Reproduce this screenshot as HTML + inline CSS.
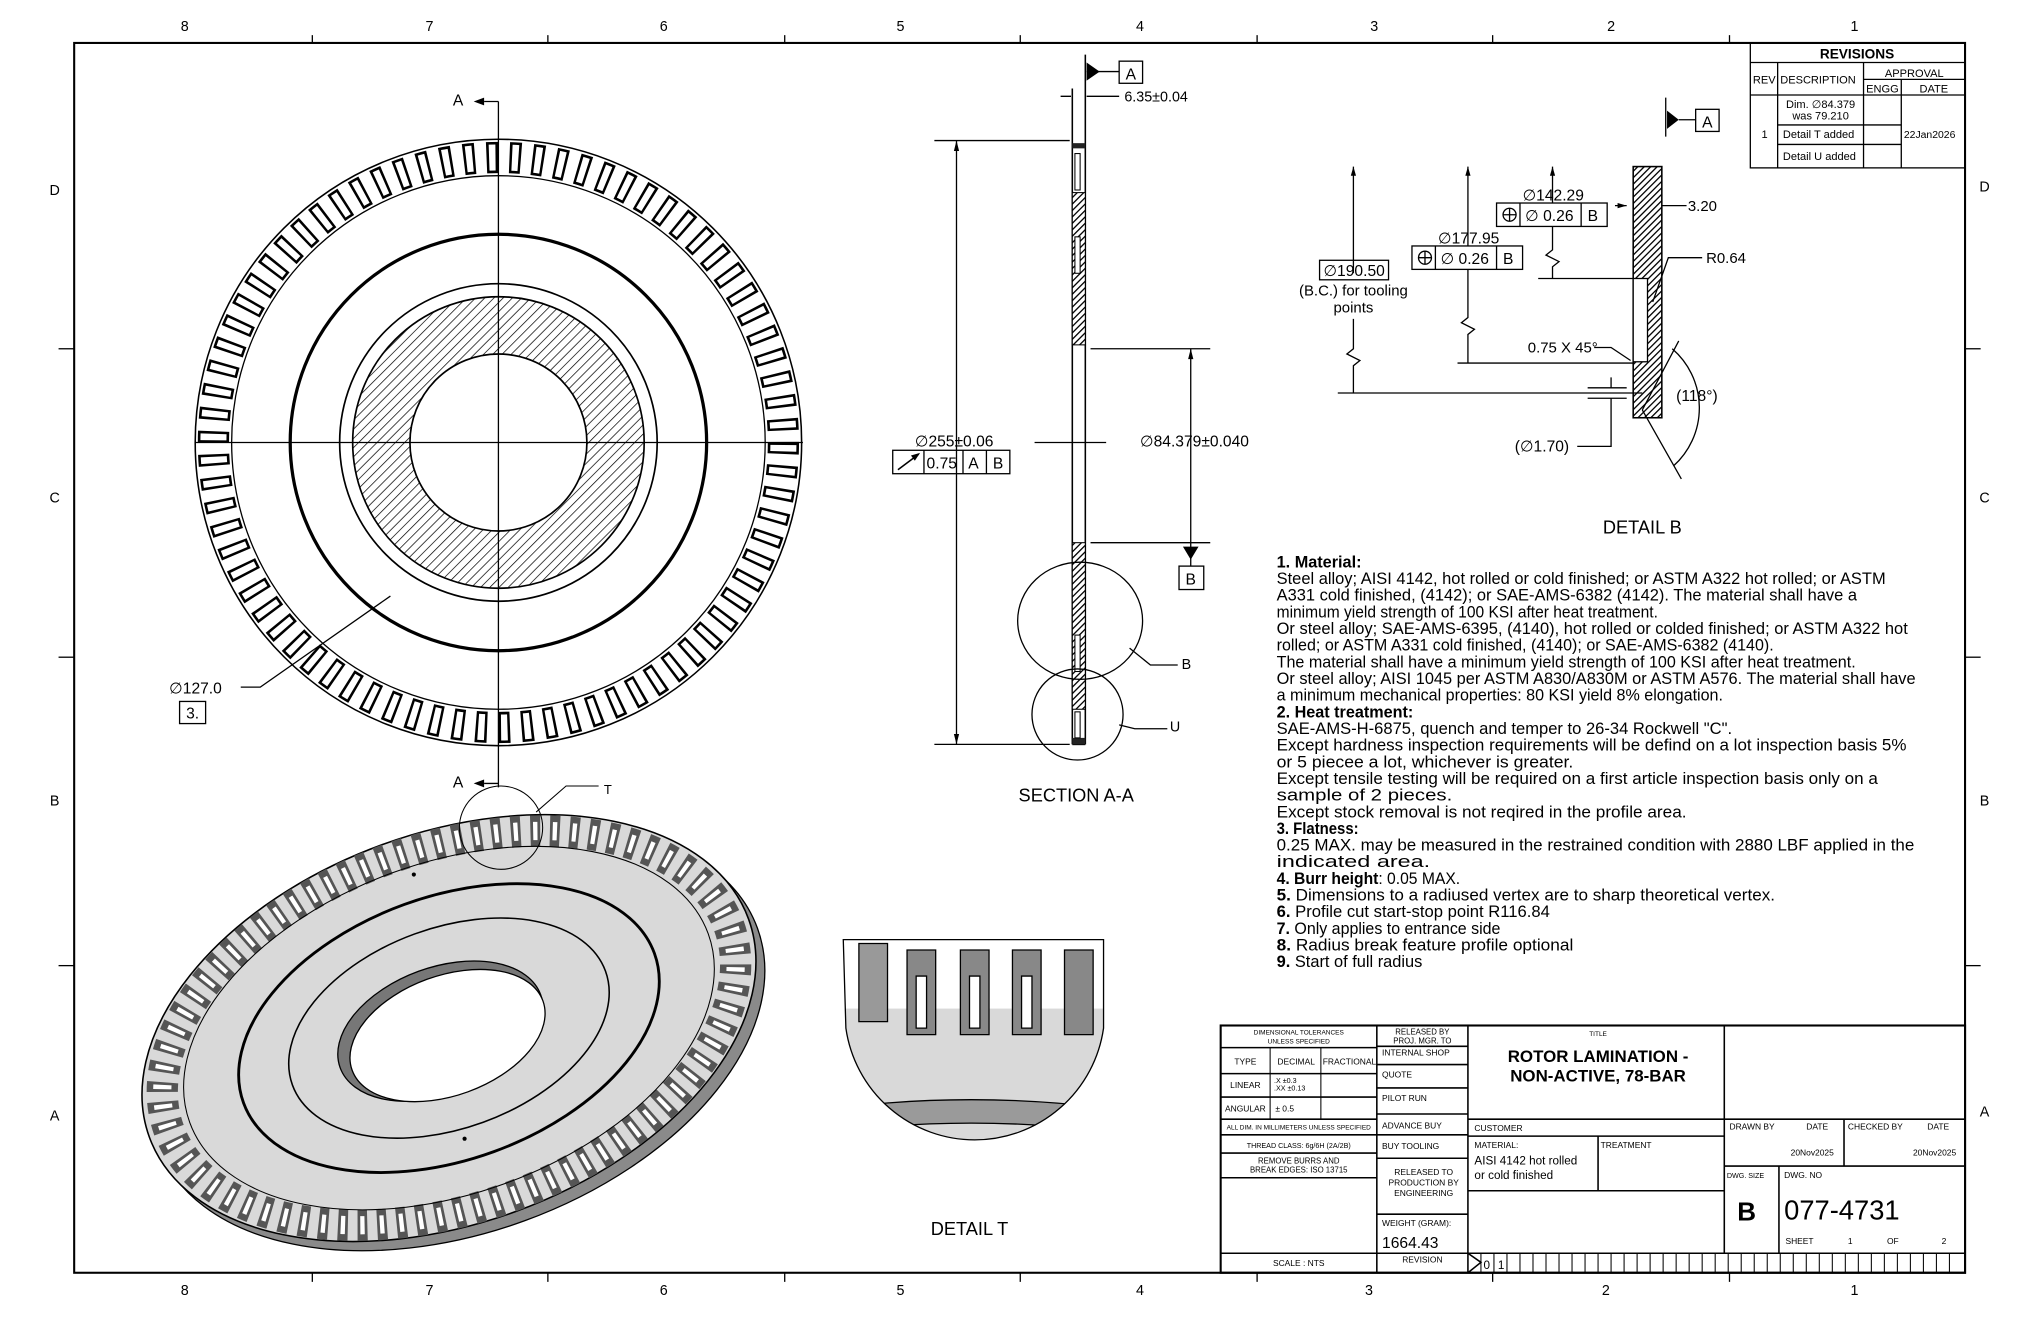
<!DOCTYPE html>
<html><head><meta charset="utf-8"><style>
html,body{margin:0;padding:0;background:#fff}
svg{display:block}
text{font-family:"Liberation Sans",sans-serif;fill:#000}
</style></head><body>
<svg width="2040" height="1320" viewBox="0 0 1567.6 1014.3" preserveAspectRatio="none" xmlns="http://www.w3.org/2000/svg">
<defs>
<pattern id="h" width="5" height="5" patternUnits="userSpaceOnUse" patternTransform="rotate(45)"><line x1="0" y1="0" x2="0" y2="5" stroke="#000" stroke-width="1.1"/></pattern>
<pattern id="hd" width="3.5" height="3.5" patternUnits="userSpaceOnUse" patternTransform="rotate(45)"><rect width="3.5" height="3.5" fill="#fff"/><line x1="0" y1="0" x2="0" y2="3.5" stroke="#000" stroke-width="2"/></pattern>
<clipPath id="tclip"><path d="M648,722 L848,722 L848,790 A100,100 0 0 1 650,790 Z"/></clipPath>
</defs>

<!-- frame -->
<rect x="57" y="33" width="1453" height="945" fill="none" stroke="#000" stroke-width="1.6"/>
<g stroke="#000" stroke-width="1">
<line x1="240" y1="27" x2="240" y2="33"/><line x1="421" y1="27" x2="421" y2="33"/><line x1="603" y1="27" x2="603" y2="33"/><line x1="784" y1="27" x2="784" y2="33"/><line x1="966" y1="27" x2="966" y2="33"/><line x1="1147" y1="27" x2="1147" y2="33"/><line x1="1329" y1="27" x2="1329" y2="33"/>
<line x1="240" y1="978" x2="240" y2="985"/><line x1="421" y1="978" x2="421" y2="985"/><line x1="603" y1="978" x2="603" y2="985"/><line x1="784" y1="978" x2="784" y2="985"/><line x1="966" y1="978" x2="966" y2="985"/><line x1="1147" y1="978" x2="1147" y2="985"/><line x1="1329" y1="978" x2="1329" y2="985"/>
<line x1="45" y1="268" x2="57" y2="268"/><line x1="45" y1="505" x2="57" y2="505"/><line x1="45" y1="742" x2="57" y2="742"/>
<line x1="1510" y1="268" x2="1522" y2="268"/><line x1="1510" y1="505" x2="1522" y2="505"/><line x1="1510" y1="742" x2="1522" y2="742"/>
</g>
<g font-size="11" text-anchor="middle">
<text x="142" y="24">8</text><text x="330" y="24">7</text><text x="510" y="24">6</text><text x="692" y="24">5</text><text x="876" y="24">4</text><text x="1056" y="24">3</text><text x="1238" y="24">2</text><text x="1425" y="24">1</text>
<text x="142" y="995">8</text><text x="330" y="995">7</text><text x="510" y="995">6</text><text x="692" y="995">5</text><text x="876" y="995">4</text><text x="1052" y="995">3</text><text x="1234" y="995">2</text><text x="1425" y="995">1</text>
<text x="42" y="150">D</text><text x="42" y="386">C</text><text x="42" y="619">B</text><text x="42" y="861">A</text>
<text x="1525" y="147">D</text><text x="1525" y="386">C</text><text x="1525" y="619">B</text><text x="1525" y="858">A</text>
</g>

<!-- FRONT VIEW -->
<g fill="none" stroke="#000">
<circle cx="383" cy="340" r="233" stroke-width="1.2"/>
<circle cx="383" cy="340" r="219" stroke-width="24" pathLength="78" stroke-dasharray="0.5 0.5"/>
<circle cx="383" cy="340" r="219" stroke="#fff" stroke-width="20" pathLength="78" stroke-dasharray="0.28 0.72" stroke-dashoffset="-0.11"/>
<circle cx="383" cy="340" r="205" stroke-width="1"/>
<circle cx="383" cy="340" r="160" stroke-width="2.5"/>
<circle cx="383" cy="340" r="122" stroke-width="1.3"/>
<circle cx="383" cy="340" r="90" stroke="url(#h)" stroke-width="44"/>
<circle cx="383" cy="340" r="112" stroke-width="1.3"/>
<circle cx="383" cy="340" r="68" stroke-width="1.3"/>
<line x1="150" y1="340" x2="617" y2="340" stroke-width="1"/>
<line x1="383" y1="78" x2="383" y2="605" stroke-width="1"/>
<path d="M372,78 H383 M372,602 H383" stroke-width="1"/>
<path d="M185,528 H200 L300,458" stroke-width="1"/>
<rect x="138" y="539" width="20" height="17" stroke-width="1"/>
</g>
<path d="M364,78 l8,-3 v6z M364,602 l8,-3 v6z" fill="#000"/>
<text x="348" y="81" font-size="12">A</text><text x="348" y="605" font-size="12">A</text>
<text x="130" y="533" font-size="12">∅127.0</text>
<text x="143" y="552" font-size="12">3.</text>

<!-- SECTION A-A -->
<g fill="none" stroke="#000" stroke-width="1.2">
<line x1="824" y1="68" x2="824" y2="572"/>
<line x1="834" y1="42" x2="834" y2="572"/>
<line x1="824" y1="572" x2="834" y2="572"/>
</g>
<rect x="824" y="110" width="10" height="4" fill="#222"/>
<rect x="824" y="148" width="10" height="117" fill="url(#hd)" stroke="#000" stroke-width="0.8"/>
<rect x="824" y="417" width="10" height="128" fill="url(#hd)" stroke="#000" stroke-width="0.8"/>
<rect x="824" y="567" width="10" height="5" fill="#222"/>
<g fill="#fff" stroke="#000" stroke-width="0.8">
<rect x="826" y="118" width="4" height="28"/><rect x="826" y="182" width="4" height="28"/>
<rect x="826" y="488" width="4" height="28"/><rect x="826" y="547" width="4" height="20"/>
</g>
<g fill="none" stroke="#000" stroke-width="1">
<line x1="835" y1="55" x2="860" y2="55"/><rect x="860" y="47" width="18" height="17"/>
<path d="M815,74 H823 M835,74 H860"/>
<path d="M718,108 H822 M718,572 H822 M735,108 V572"/>
<path d="M838,268 H930 M838,417 H930 M915,268 V417 M915,417 V435"/>
<rect x="906" y="435" width="19" height="18"/>
<path d="M795,340 H850"/>
<rect x="686" y="346" width="90" height="18"/><path d="M710,346 V364 M740,346 V364 M758,346 V364"/>
<ellipse cx="830" cy="477" rx="48" ry="45"/>
<circle cx="828" cy="549" r="35"/>
<path d="M868,498 L884,511 H905 M860,557 L872,560 H897"/>
</g>
<path d="M835,48 l10,7 l-10,7z M915,430 l-6,-10 h12z" fill="#000"/>
<path d="M735,108 l-2,8 h4z M735,572 l-2,-8 h4z M915,268 l-2,8 h4z" fill="#000"/>
<path d="M690,361 L706,349" stroke="#000" stroke-width="1.2"/><path d="M707,348 l-7,2 l3,4z" fill="#000"/>
<text x="865" y="61" font-size="12">A</text>
<text x="864" y="78" font-size="11">6.35±0.04</text>
<text x="703" y="343" font-size="12">∅255±0.06</text>
<text x="712" y="360" font-size="12">0.75</text><text x="744" y="360" font-size="12">A</text><text x="763" y="360" font-size="12">B</text>
<text x="876" y="343" font-size="12">∅84.379±0.040</text>
<text x="911" y="449" font-size="12">B</text>
<text x="908" y="514" font-size="11">B</text><text x="899" y="562" font-size="11">U</text>
<text x="827" y="616" font-size="14" text-anchor="middle">SECTION A-A</text>

<!-- DETAIL B -->
<rect x="1255" y="128" width="22" height="193" fill="url(#hd)" stroke="#000" stroke-width="1.2"/>
<rect x="1255" y="214" width="11" height="64" fill="#fff" stroke="#000" stroke-width="1"/>
<g fill="none" stroke="#000" stroke-width="1">
<path d="M1280,75 V105 M1290,92 H1303"/><rect x="1303" y="84" width="18" height="17"/>
<path d="M1182,214 H1255 M1120,279 H1255 M1028,302 H1262"/>
<path d="M1040,128 V210 M1040,245 V268 l-5,4 l10,5 l-5,4 V302"/>
<path d="M1128,128 V189 M1128,207 V244 l-5,4 l10,5 l-5,4 V279"/>
<path d="M1193,128 V156 M1193,174 V192 l-5,4 l10,5 l-5,4 V214"/>
<rect x="1150" y="156" width="85" height="18"/><path d="M1168,156 V174 M1215,156 V174"/>
<rect x="1085" y="189" width="85" height="18"/><path d="M1103,189 V207 M1150,189 V207"/>
<rect x="1014" y="200" width="53" height="15"/>
<path d="M1241,158 H1250 M1277,158 H1296"/>
<path d="M1270,232 L1282,198 H1308"/>
<path d="M1225,267 H1238 L1253,277"/>
<path d="M1220,298 H1250 M1220,306 H1250 M1238,290 V298 M1238,306 V343 H1212"/>
<path d="M1262,315 L1290,262 M1262,315 L1292,368"/>
<path d="M1285,268 A60,60 0 0 1 1286,358"/>
<circle cx="1160" cy="165" r="5"/><path d="M1155,165 H1165 M1160,160 V170"/>
<circle cx="1095" cy="198" r="5"/><path d="M1090,198 H1100 M1095,193 V203"/>
</g>
<path d="M1281,85 l9,7 l-9,7z" fill="#000"/>
<path d="M1040,128 l-2,7 h4z M1128,128 l-2,7 h4z M1193,128 l-2,7 h4z M1250,158 l-7,-2 v4z" fill="#000"/>
<text x="1308" y="98" font-size="12">A</text>
<text x="1170" y="154" font-size="12">∅142.29</text>
<text x="1172" y="170" font-size="12">∅ 0.26</text><text x="1220" y="170" font-size="12">B</text>
<text x="1105" y="187" font-size="12">∅177.95</text>
<text x="1107" y="203" font-size="12">∅ 0.26</text><text x="1155" y="203" font-size="12">B</text>
<text x="1017" y="212" font-size="12">∅190.50</text>
<text x="1040" y="227" font-size="11.5" text-anchor="middle">(B.C.) for tooling</text>
<text x="1040" y="240" font-size="11.5" text-anchor="middle">points</text>
<text x="1297" y="162" font-size="11.5">3.20</text>
<text x="1311" y="202" font-size="11.5">R0.64</text>
<text x="1174" y="271" font-size="11.5">0.75 X 45°</text>
<text x="1288" y="308" font-size="12">(118°)</text>
<text x="1164" y="347" font-size="12">(∅1.70)</text>
<text x="1262" y="410" font-size="14" text-anchor="middle">DETAIL B</text>

<!-- REVISIONS -->
<g fill="none" stroke="#000" stroke-width="1">
<rect x="1345" y="33" width="165" height="96"/>
<path d="M1345,48 H1510 M1432,61 H1510 M1345,73 H1510 M1366,96 H1461 M1366,111 H1461"/>
<path d="M1366,48 V129 M1432,48 V129 M1461,61 V129"/>
</g>
<g font-size="8.5">
<text x="1427" y="45" font-size="10.5" font-weight="bold" text-anchor="middle">REVISIONS</text>
<text x="1347" y="64">REV</text><text x="1368" y="64">DESCRIPTION</text>
<text x="1471" y="59" text-anchor="middle">APPROVAL</text><text x="1434" y="71">ENGG</text><text x="1486" y="71" text-anchor="middle">DATE</text>
<text x="1399" y="83" text-anchor="middle">Dim. ∅84.379</text><text x="1399" y="92" text-anchor="middle">was 79.210</text>
<text x="1356" y="106" text-anchor="middle">1</text>
<text x="1370" y="106">Detail T added</text><text x="1370" y="123">Detail U added</text>
<text x="1463" y="106" font-size="8">22Jan2026</text>
</g>

<!-- ISOMETRIC -->
<g transform="rotate(-20 345 790)">
<ellipse cx="349" cy="799" rx="245" ry="150" fill="#8a8a8a" stroke="#000" stroke-width="1"/>
<ellipse cx="345" cy="790" rx="245" ry="150" fill="#d9d9d9" stroke="#000" stroke-width="1.2"/>
<ellipse cx="345" cy="790" rx="229" ry="138" fill="none" stroke="#555" stroke-width="24" pathLength="78" stroke-dasharray="0.5 0.5"/>
<ellipse cx="345" cy="790" rx="229" ry="138" fill="none" stroke="#fff" stroke-width="14" pathLength="78" stroke-dasharray="0.22 0.78" stroke-dashoffset="-0.14"/>
<ellipse cx="345" cy="790" rx="212" ry="127" fill="none" stroke="#000" stroke-width="0.8"/>
<ellipse cx="345" cy="790" rx="168" ry="101" fill="none" stroke="#000" stroke-width="2.2"/>
<ellipse cx="345" cy="790" rx="128" ry="77" fill="none" stroke="#000" stroke-width="1.2"/>
<ellipse cx="338" cy="790" rx="82" ry="49" fill="#777" stroke="#000" stroke-width="1"/>
<ellipse cx="342" cy="795" rx="78" ry="46" fill="#fff" stroke="#000" stroke-width="1"/>
</g>
<circle cx="385" cy="636" r="32" fill="none" stroke="#000" stroke-width="0.8"/>
<path d="M412,624 L435,604 H460" fill="none" stroke="#000" stroke-width="0.8"/>
<text x="464" y="610" font-size="10">T</text>
<circle cx="318" cy="672" r="1.6"/><circle cx="357" cy="875" r="1.6"/>

<!-- DETAIL T -->
<g clip-path="url(#tclip)">
<rect x="640" y="715" width="215" height="170" fill="#d9d9d9"/>
<rect x="640" y="715" width="215" height="60" fill="#fff"/>
<g stroke="#000" stroke-width="1">
<path d="M660,725 h22 v60 h-22z" fill="#999"/>
<path d="M697,730 h22 v65 h-22z" fill="#888"/><path d="M704,750 h8 v40 h-8z" fill="#fff"/>
<path d="M738,730 h22 v65 h-22z" fill="#888"/><path d="M745,750 h8 v40 h-8z" fill="#fff"/>
<path d="M778,730 h22 v65 h-22z" fill="#888"/><path d="M785,750 h8 v40 h-8z" fill="#fff"/>
<path d="M818,730 h22 v65 h-22z" fill="#888"/>
</g>
<path d="M640,852 Q745,838 855,852 L855,870 Q745,856 640,870Z" fill="#9a9a9a" stroke="#000" stroke-width="1"/>
</g>
<path d="M648,722 L848,722 L848,790 A100,100 0 0 1 650,790 Z" fill="none" stroke="#000" stroke-width="1"/>
<text x="745" y="949" font-size="14" text-anchor="middle">DETAIL T</text>

<!-- NOTES -->
<g font-size="12.5">
<text x="981" y="436" font-weight="bold">1. Material:</text>
<text x="981" y="448.8" textLength="468" lengthAdjust="spacingAndGlyphs">Steel alloy; AISI 4142, hot rolled or cold finished; or ASTM A322 hot rolled; or ASTM</text>
<text x="981" y="461.6" textLength="446" lengthAdjust="spacingAndGlyphs">A331 cold finished, (4142); or SAE-AMS-6382 (4142). The material shall have a</text>
<text x="981" y="474.4" textLength="293" lengthAdjust="spacingAndGlyphs">minimum yield strength of 100 KSI after heat treatment.</text>
<text x="981" y="487.2" textLength="485" lengthAdjust="spacingAndGlyphs">Or steel alloy; SAE-AMS-6395, (4140), hot rolled or colded finished; or ASTM A322 hot</text>
<text x="981" y="500" textLength="382" lengthAdjust="spacingAndGlyphs">rolled; or ASTM A331 cold finished, (4140); or SAE-AMS-6382 (4140).</text>
<text x="981" y="512.8" textLength="445" lengthAdjust="spacingAndGlyphs">The material shall have a minimum yield strength of 100 KSI after heat treatment.</text>
<text x="981" y="525.6" textLength="491" lengthAdjust="spacingAndGlyphs">Or steel alloy; AISI 1045 per ASTM A830/A830M or ASTM A576. The material shall have</text>
<text x="981" y="538.4" textLength="343" lengthAdjust="spacingAndGlyphs">a minimum mechanical properties: 80 KSI yield 8% elongation.</text>
<text x="981" y="551.2" font-weight="bold" textLength="105" lengthAdjust="spacingAndGlyphs">2. Heat treatment:</text>
<text x="981" y="564" textLength="350" lengthAdjust="spacingAndGlyphs">SAE-AMS-H-6875, quench and temper to 26-34 Rockwell "C".</text>
<text x="981" y="576.8" textLength="484" lengthAdjust="spacingAndGlyphs">Except hardness inspection requirements will be defind on a lot inspection basis 5%</text>
<text x="981" y="589.6" textLength="228" lengthAdjust="spacingAndGlyphs">or 5 piecee a lot, whichever is greater.</text>
<text x="981" y="602.4" textLength="462" lengthAdjust="spacingAndGlyphs">Except tensile testing will be required on a first article inspection basis only on a</text>
<text x="981" y="615.2" textLength="135" lengthAdjust="spacingAndGlyphs">sample of 2 pieces.</text>
<text x="981" y="628" textLength="315" lengthAdjust="spacingAndGlyphs">Except stock removal is not reqired in the profile area.</text>
<text x="981" y="640.8" font-weight="bold" textLength="63" lengthAdjust="spacingAndGlyphs">3. Flatness:</text>
<text x="981" y="653.6" textLength="490" lengthAdjust="spacingAndGlyphs">0.25 MAX. may be measured in the restrained condition with 2880 LBF applied in the</text>
<text x="981" y="666.4" textLength="118" lengthAdjust="spacingAndGlyphs">indicated area.</text>
<text x="981" y="679.2" textLength="141" lengthAdjust="spacingAndGlyphs"><tspan font-weight="bold">4. Burr height</tspan>: 0.05 MAX.</text>
<text x="981" y="692" textLength="383" lengthAdjust="spacingAndGlyphs"><tspan font-weight="bold">5.</tspan> Dimensions to a radiused vertex are to sharp theoretical vertex.</text>
<text x="981" y="704.8" textLength="210" lengthAdjust="spacingAndGlyphs"><tspan font-weight="bold">6.</tspan> Profile cut start-stop point R116.84</text>
<text x="981" y="717.6" textLength="172" lengthAdjust="spacingAndGlyphs"><tspan font-weight="bold">7.</tspan> Only applies to entrance side</text>
<text x="981" y="730.4" textLength="228" lengthAdjust="spacingAndGlyphs"><tspan font-weight="bold">8.</tspan> Radius break feature profile optional</text>
<text x="981" y="743.2" textLength="112" lengthAdjust="spacingAndGlyphs"><tspan font-weight="bold">9.</tspan> Start of full radius</text>
</g>

<!-- TITLE BLOCK -->
<g fill="none" stroke="#000" stroke-width="1.2">
<rect x="938" y="788" width="572" height="190" stroke-width="1.6"/>
<path d="M1058,788 V978 M1128,788 V978 M1325,788 V963"/>
<path d="M938,805 H1058 M938,825 H1058 M938,843 H1058 M938,860 H1058 M938,872 H1058 M938,886 H1058 M938,905 H1058 M938,963 H1510"/>
<path d="M976,805 V860 M1015,805 V860" stroke-width="0.8"/>
<path d="M1058,804 H1128 M1058,818 H1128 M1058,836 H1128 M1058,856 H1128 M1058,872 H1128 M1058,890 H1128 M1058,933 H1128"/>
<path d="M1128,860 H1510 M1128,873 H1325 M1128,915 H1325 M1228,873 V915"/>
<path d="M1417,860 V896 M1325,896 H1510 M1367,896 V963"/>
<path d="M1128,963 L1138,970 L1128,978"/>
</g>
<g stroke="#000" stroke-width="0.8">
<path d="M1138,963 V978 M1148,963 V978 M1158,963 V978 M1168,963 V978 M1178,963 V978 M1188,963 V978 M1198,963 V978 M1208,963 V978 M1218,963 V978 M1228,963 V978 M1238,963 V978 M1248,963 V978 M1258,963 V978 M1268,963 V978 M1278,963 V978 M1288,963 V978 M1298,963 V978 M1308,963 V978 M1318,963 V978 M1328,963 V978 M1338,963 V978 M1348,963 V978 M1358,963 V978 M1368,963 V978 M1378,963 V978 M1388,963 V978 M1398,963 V978 M1408,963 V978 M1418,963 V978 M1428,963 V978 M1438,963 V978 M1448,963 V978 M1458,963 V978 M1468,963 V978 M1478,963 V978 M1488,963 V978 M1498,963 V978"/>
</g>
<g font-size="6.5" text-anchor="middle">
<text x="998" y="795" font-size="5">DIMENSIONAL TOLERANCES</text><text x="998" y="802" font-size="5">UNLESS SPECIFIED</text>
<text x="957" y="818">TYPE</text><text x="996" y="818">DECIMAL</text><text x="1037" y="818">FRACTIONAL</text>
<text x="957" y="836">LINEAR</text><text x="957" y="854">ANGULAR</text>
<text x="998" y="868" font-size="5">ALL DIM. IN MILLIMETERS UNLESS SPECIFIED</text>
<text x="998" y="882" font-size="5.5">THREAD CLASS: 6g/6H (2A/2B)</text>
<text x="998" y="894" font-size="6">REMOVE BURRS AND</text><text x="998" y="901" font-size="6">BREAK EDGES: ISO 13715</text>
<text x="998" y="973">SCALE : NTS</text>
<text x="1093" y="795" font-size="6">RELEASED BY</text><text x="1093" y="802" font-size="6">PROJ. MGR. TO</text>
<text x="1093" y="970">REVISION</text>
<text x="1094" y="903">RELEASED TO</text><text x="1094" y="911">PRODUCTION BY</text><text x="1094" y="919">ENGINEERING</text>
<text x="1228" y="796" font-size="5">TITLE</text>
<text x="1228" y="816" font-size="13" font-weight="bold">ROTOR LAMINATION -</text>
<text x="1228" y="831" font-size="13" font-weight="bold">NON-ACTIVE, 78-BAR</text>
</g>
<g font-size="6.5">
<text x="979" y="832" font-size="5.5">.X  ±0.3</text><text x="979" y="838" font-size="5.5">.XX ±0.13</text>
<text x="980" y="854">± 0.5</text>
<text x="1062" y="811">INTERNAL SHOP</text><text x="1062" y="828">QUOTE</text><text x="1062" y="846">PILOT RUN</text>
<text x="1062" y="867">ADVANCE BUY</text><text x="1062" y="883">BUY TOOLING</text>
<text x="1062" y="942">WEIGHT (GRAM):</text>
<text x="1062" y="959" font-size="12">1664.43</text>
<text x="1133" y="869">CUSTOMER</text><text x="1133" y="882">MATERIAL:</text><text x="1230" y="882">TREATMENT</text>
<text x="1133" y="895" font-size="9">AISI 4142 hot rolled</text><text x="1133" y="906" font-size="9">or cold finished</text>
<text x="1140" y="975" font-size="9">0</text><text x="1151" y="975" font-size="9">1</text>
<text x="1329" y="868">DRAWN BY</text><text x="1388" y="868">DATE</text><text x="1420" y="868">CHECKED BY</text><text x="1481" y="868">DATE</text>
<text x="1376" y="888">20Nov2025</text><text x="1470" y="888">20Nov2025</text>
<text x="1327" y="905" font-size="5.5">DWG. SIZE</text><text x="1371" y="905">DWG. NO</text>
<text x="1335" y="938" font-size="20" font-weight="bold">B</text>
<text x="1371" y="937" font-size="21">077-4731</text>
<text x="1372" y="956">SHEET</text><text x="1420" y="956">1</text><text x="1450" y="956">OF</text><text x="1492" y="956">2</text>
</g>
</svg>
</body></html>
